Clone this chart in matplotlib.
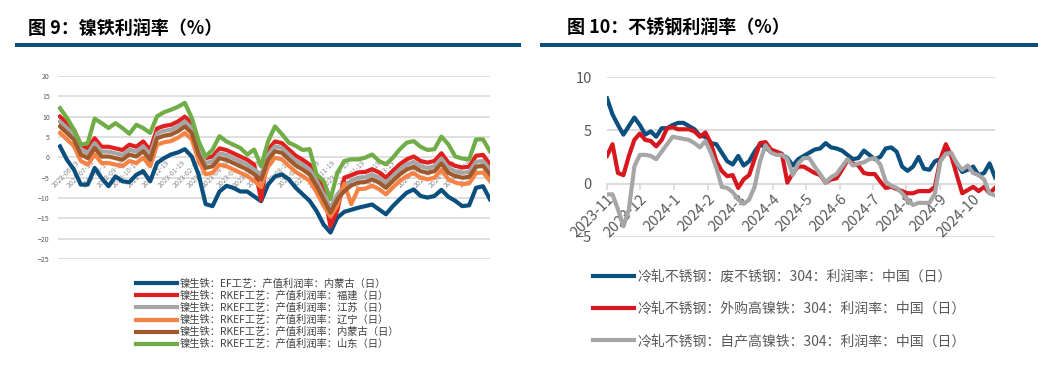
import matplotlib.pyplot as plt
import pandas as pd
from matplotlib.patches import Rectangle

plt.rcParams['font.family'] = ['Noto Sans CJK SC', 'DejaVu Sans']

# ---------------- 图9 镍铁利润率, 14-day steps from 2022-05-19 ----------------
nife_dates = pd.date_range('2022-05-19', periods=63, freq='14D')

ef_nmg = [2.7, -0.6, -3.0, -6.7, -6.7, -2.6, -5.1, -7.1, -4.7, -5.9,
          -6.1, -4.3, -3.4, -5.9, -1.4, -0.2, 0.7, 1.2, 2.0, 0.2,
          -4.3, -11.5, -12.0, -8.4, -7.0, -7.5, -8.4, -8.4, -9.6, -10.8,
          -6.7, -4.7, -4.2, -5.4, -7.5, -9.1, -10.7, -13.2, -16.5, -18.5,
          -14.8, -13.4, -12.9, -12.4, -12.0, -11.6, -12.8, -14.0, -12.0, -10.3,
          -8.7, -7.9, -9.5, -9.9, -9.5, -8.0, -9.7, -10.7, -12.0, -11.8,
          -7.5, -7.1, -10.3]
rkef_fj = [10.0, 8.4, 6.8, 3.1, 2.2, 4.7, 2.6, 2.6, 2.2, 1.8,
           3.1, 2.6, 3.9, 1.8, 7.1, 7.7, 8.0, 8.8, 10.0, 8.4,
           3.1, -0.2, 0.2, 2.2, 1.8, 1.0, 0.2, -0.6, -1.8, -10.5,
           1.8, 3.9, 3.5, 1.9, 0.4, -0.6, -1.8, -4.6, -7.9, -17.0,
           -13.0, -5.0, -4.4, -3.7, -3.6, -2.9, -3.7, -5.0, -3.3, -1.7,
           -0.5, 0.2, -0.9, -1.3, -0.9, 1.0, -1.3, -2.1, -2.5, -2.3,
           0.4, 0.6, -1.7]
rkef_js = [8.8, 7.2, 5.6, 1.9, 1.0, 3.5, 1.4, 1.4, 1.0, 0.6,
           1.9, 1.4, 2.7, 0.6, 5.9, 6.5, 6.8, 7.6, 8.8, 7.2,
           1.9, -1.4, -1.0, 1.0, 0.6, -0.2, -1.0, -1.8, -3.0, -4.3,
           0.6, 2.7, 2.3, 0.7, -0.8, -1.8, -3.0, -5.8, -9.1, -12.4,
           -9.1, -7.1, -5.7, -5.0, -4.9, -4.2, -5.0, -6.3, -4.6, -3.0,
           -1.8, -1.1, -2.2, -2.6, -2.2, -0.3, -2.6, -3.4, -3.8, -3.6,
           -1.1, -0.9, -3.0]
rkef_ln = [6.0, 4.4, 2.8, -0.9, -1.8, 0.7, -1.4, -1.4, -1.8, -2.2,
           -0.9, -1.4, -0.1, -2.2, 3.1, 3.7, 4.0, 4.8, 6.0, 4.4,
           -0.9, -4.2, -3.8, -1.8, -2.2, -3.0, -3.8, -4.6, -5.8, -7.3,
           -2.2, -0.1, -0.5, -2.1, -3.6, -4.6, -5.8, -8.6, -11.9, -14.5,
           -11.9, -6.5, -11.5, -7.8, -7.7, -7.0, -7.8, -9.1, -7.4, -5.8,
           -4.6, -3.9, -5.0, -5.4, -5.0, -3.1, -5.4, -6.2, -6.6, -6.4,
           -3.9, -3.7, -5.8]
rkef_nmg = [7.6, 6.0, 4.4, 0.7, -0.2, 2.3, 0.2, 0.2, -0.2, -0.6,
            0.7, 0.2, 1.5, -0.6, 4.7, 5.3, 5.6, 6.4, 7.6, 6.0,
            0.7, -2.6, -2.2, -0.2, -0.6, -1.4, -2.2, -3.0, -4.2, -5.5,
            -0.6, 1.5, 1.1, -0.5, -2.0, -3.0, -4.2, -7.0, -10.3, -13.6,
            -10.3, -8.3, -6.9, -6.2, -6.1, -5.4, -6.2, -7.5, -5.8, -4.2,
            -3.0, -2.3, -3.4, -3.8, -3.4, -1.5, -3.8, -4.6, -5.0, -4.8,
            -2.3, -2.1, -4.2]
rkef_sd = [12.1, 9.7, 6.8, 3.1, 3.5, 9.5, 8.4, 7.2, 8.4, 7.2,
           5.8, 8.0, 7.2, 6.0, 10.1, 11.1, 11.7, 12.4, 13.4, 9.7,
           3.9, 0.2, 1.9, 5.2, 3.9, 3.1, 2.3, 0.7, 1.9, -2.2,
           3.9, 7.6, 5.7, 3.6, 2.8, 1.8, 2.0, -4.2, -5.8, -10.3,
           -3.8, -0.9, -0.5, -0.5, -0.1, 0.7, -0.9, -1.7, -0.1, 2.0,
           3.6, 4.0, 2.6, 1.8, 2.0, 5.1, 3.2, 0.2, -0.3, -0.5,
           4.4, 4.4, 1.5]

nife_labels = ['镍生铁：EF工艺：产值利润率：内蒙古（日）',
               '镍生铁：RKEF工艺：产值利润率：福建（日）',
               '镍生铁：RKEF工艺：产值利润率：江苏（日）',
               '镍生铁：RKEF工艺：产值利润率：辽宁（日）',
               '镍生铁：RKEF工艺：产值利润率：内蒙古（日）',
               '镍生铁：RKEF工艺：产值利润率：山东（日）']
nife_colors = ['#0b4f7e', '#e0201f', '#a5a5a5', '#f58345', '#9e5a2c', '#70ad47']
nife_ticks = pd.date_range('2022-05-19', '2024-09-19', freq='MS') + pd.Timedelta(days=18)

# ---------------- 图10 不锈钢利润率, 5-day steps from 2023-11-01 ----------------
ss_dates = pd.date_range('2023-11-01', periods=72, freq='5D')

ss_scrap = [8.0, 6.5, 5.5, 4.6, 5.4, 6.2, 5.5, 4.6, 4.9, 4.4,
            5.2, 5.2, 5.5, 5.7, 5.7, 5.4, 5.1, 4.5, 4.4, 3.8,
            3.7, 2.9, 2.1, 1.8, 2.6, 1.7, 2.1, 3.0, 3.7, 3.4,
            3.0, 2.8, 2.7, 2.4, 1.7, 2.3, 2.6, 2.9, 3.2, 3.3,
            3.8, 3.4, 3.3, 3.1, 2.7, 2.3, 2.4, 3.1, 2.7, 2.3,
            2.5, 3.3, 3.4, 3.0, 1.6, 1.2, 1.6, 2.5, 1.4, 1.3,
            2.1, 2.3, 3.0, 2.7, 1.9, 1.1, 1.3, 1.6, 0.8, 1.0,
            1.9, 0.6]
ss_buy = [2.6, 3.7, 1.0, 0.8, 2.6, 4.1, 4.7, 4.1, 4.0, 3.5,
          4.1, 5.2, 5.3, 5.1, 5.1, 5.1, 4.9, 4.4, 4.8, 3.8,
          2.1, 1.2, 0.7, 0.8, -0.4, 0.4, 0.8, 2.3, 3.8, 3.9,
          3.2, 3.0, 2.8, 0.1, 1.0, 1.6, 1.6, 1.3, 1.0, 0.8,
          0.1, 0.4, 0.5, 1.3, 2.2, 1.9, 1.7, 1.0, 0.9, 0.9,
          0.2, -0.4, -0.3, -0.5, -0.7, -0.9, -0.9, -0.7, -0.7, -0.7,
          -0.3, 2.3, 3.7, 2.6, 0.8, -0.9, -0.6, -0.3, -0.7, -0.3,
          -0.9, -0.4]
ss_own = [-1.0, -1.0, -2.4, -4.0, -2.4, 1.6, 2.7, 2.7, 2.6, 2.3,
          3.0, 3.7, 4.4, 4.3, 4.2, 4.1, 3.8, 3.4, 4.0, 2.9,
          1.5, -0.3, -0.4, -0.8, -1.5, -1.9, -1.5, -0.3, 2.1, 3.6,
          2.9, 2.7, 2.7, 2.3, 0.8, 1.9, 2.4, 2.4, 1.6, 0.9,
          0.1, 0.6, 0.9, 1.6, 2.3, 1.7, 1.9, 2.0, 2.3, 2.4,
          1.8, 0.2, -0.2, -0.4, -0.9, -1.5, -2.0, -1.8, -1.8, -1.8,
          -0.9, 2.1, 2.8, 2.9, 1.9, 1.3, 1.7, 1.0, 0.8, 0.4,
          -0.9, -1.1]

ss_labels = ['冷轧不锈钢：废不锈钢：304：利润率：中国（日）',
             '冷轧不锈钢：外购高镍铁：304：利润率：中国（日）',
             '冷轧不锈钢：自产高镍铁：304：利润率：中国（日）']
ss_colors = ['#0b4f7e', '#d7161e', '#a6a6a6']
ss_ticks = pd.date_range('2023-11-01', '2024-10-01', freq='MS')

fig = plt.figure(figsize=(10.38, 3.65), dpi=100)

# headers
fig.text(0.027, 0.923, '图 9：镍铁利润率（%）', fontsize=13, fontweight='bold',
         va='center', ha='left', color='black')
fig.text(0.546, 0.923, '图 10：不锈钢利润率（%）', fontsize=13, fontweight='bold',
         va='center', ha='left', color='black')
fig.add_artist(Rectangle((0.0145, 0.871), 0.487, 0.011, transform=fig.transFigure,
                         color='#0b4f7e', lw=0))
fig.add_artist(Rectangle((0.52, 0.871), 0.48, 0.011, transform=fig.transFigure,
                         color='#0b4f7e', lw=0))

# ---------- left chart ----------
ax1 = fig.add_axes([0.0559, 0.2904, 0.4161, 0.5014])
for s in ax1.spines.values():
    s.set_visible(False)
ax1.spines['bottom'].set_position(('data', 0))   # resets ticks, so do it first
series = [ef_nmg, rkef_fj, rkef_js, rkef_ln, rkef_nmg, rkef_sd]
for vals, c, lab in zip(series, nife_colors, nife_labels):
    ax1.plot(nife_dates, vals, color=c, lw=3, label=lab, solid_joinstyle='round')
for y in range(-25, 21, 5):
    ax1.axhline(y, color='#d9d9d9', lw=1.2, zorder=0)
ax1.set_ylim(-25, 20)
ax1.set_yticks(range(-25, 21, 5))
ax1.set_xlim(nife_dates[0] - pd.Timedelta(days=4), nife_dates[-1])
ax1.set_xticks(nife_ticks)
ax1.set_xticklabels([d.strftime('%Y-%m-%d') for d in nife_ticks], rotation=45,
                    ha='right', rotation_mode='anchor')
ax1.tick_params(axis='x', length=0, labelsize=5, labelcolor='#8c8c8c', pad=1)
ax1.tick_params(axis='y', length=0, labelsize=5, labelcolor='#595959', pad=6)

fig.legend(ax1.get_lines()[:6], nife_labels, loc='upper left',
           bbox_to_anchor=(0.131, 0.237), frameon=False, fontsize=7.4,
           handlelength=4.0, handletextpad=0.2, labelspacing=0.2,
           borderpad=0, borderaxespad=0, labelcolor='#404040')

# ---------- right chart ----------
ax2 = fig.add_axes([0.5848, 0.3507, 0.3738, 0.4383])
for s in ax2.spines.values():
    s.set_visible(False)
ax2.spines['bottom'].set_visible(True)
ax2.spines['bottom'].set_position(('data', 0))
ax2.spines['bottom'].set_color('#d9d9d9')
ax2.spines['bottom'].set_linewidth(1.3)
ax2.spines['bottom'].set_zorder(0)
for vals, c, lab in zip([ss_scrap, ss_buy, ss_own], ss_colors, ss_labels):
    ax2.plot(ss_dates, vals, color=c, lw=3, label=lab, solid_joinstyle='round')
for y in [-5, 5, 10]:
    ax2.axhline(y, color='#d9d9d9', lw=1.3, zorder=0)
ax2.set_ylim(-5, 10)
ax2.set_yticks([-5, 0, 5, 10])
ax2.set_xlim(ss_dates[0], ss_dates[-1])
ax2.set_xticks(ss_ticks)
ax2.set_xticklabels([f'{d.year}-{d.month}' for d in ss_ticks], rotation=45,
                    ha='right', rotation_mode='anchor')
ax2.tick_params(axis='x', length=4, color='#d9d9d9', width=1.2,
                labelsize=10.5, labelcolor='#595959', pad=2)
ax2.tick_params(axis='y', length=0, labelsize=10.5, labelcolor='#595959', pad=11)

fig.legend(ax2.get_lines()[:3], ss_labels, loc='upper left',
           bbox_to_anchor=(0.571, 0.260), frameon=False, fontsize=10,
           handlelength=3.0, handletextpad=0.2, labelspacing=1.3,
           borderpad=0, borderaxespad=0, labelcolor='#595959')

fig.savefig('out.png', dpi=100, facecolor='white')
